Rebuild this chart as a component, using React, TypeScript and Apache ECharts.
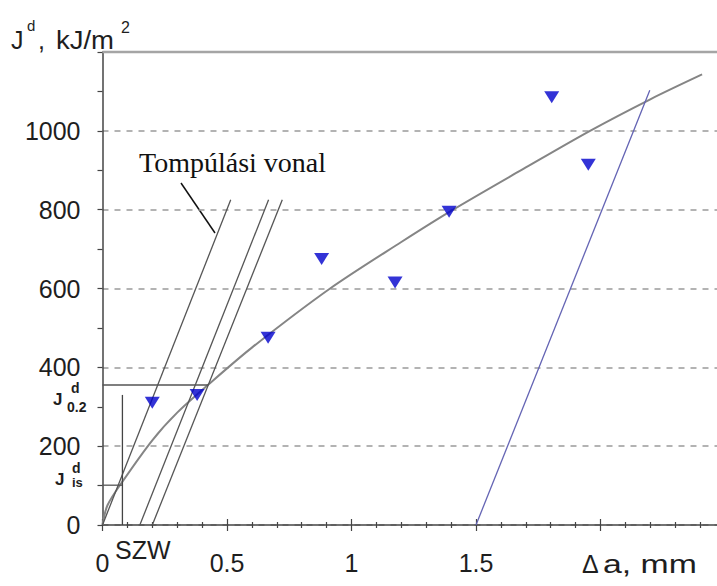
import { useEffect, useRef } from "react";
import * as echarts from "echarts";

// ---- data ----
const xTickLabels = ["0", "0.5", "1", "1.5"];
const yTickLabels = ["0", "200", "400", "600", "800", "1000"];

// measured J-R points (Δa mm, J kJ/m2)
const measuredDa = [0.2, 0.38, 0.665, 0.88, 1.175, 1.392, 1.804, 1.951];
const measuredJ = [310, 330, 475, 675, 615, 795, 1085, 914];

// fitted J-R curve
const fitDa = [0, 0.02, 0.08, 0.2, 0.3, 0.423, 0.6, 0.914, 1.2, 1.4, 1.7, 1.958, 2.2, 2.408];
const fitJ = [0, 50, 110, 215, 285, 355, 450, 600, 718, 797, 907, 1000, 1080, 1143];

// blunting line and its offsets (start Δa at J=0, end point)
const bluntStartDa = [0, 0.15, 0.2, 1.5];
const bluntEndDa = [0.515, 0.667, 0.722, 2.198];
const bluntEndJ = [825, 825, 825, 1103];

// characteristic values
const szwDa = 0.08;
const szwTopJ = 330;
const jIs = 101;
const j02 = 355;
const j02Da = 0.424;
const yMax = 1200;
const xMax = 2.5;

export default function App() {
  const ref = useRef<HTMLDivElement>(null);
  useEffect(() => {
    const chart = echarts.init(ref.current!, null, { renderer: "svg" });
    const sans = "'Liberation Sans', Arial, sans-serif";
    const serif = "'Liberation Serif', 'Times New Roman', serif";
    const axisColor = "#444";

    const line = (data: number[][], color: string, width: number, extra: any = {}) => ({
      type: "line",
      data,
      symbol: "none",
      showSymbol: false,
      silent: true,
      lineStyle: { color, width },
      z: 3,
      ...extra,
    });

    const series: any[] = [];
    series.push(line(fitDa.map((x, i) => [x, fitJ[i]]), "#858585", 2, { smooth: 0.3 }));
    bluntStartDa.forEach((s, i) => {
      series.push(
        line(
          [
            [s, 0],
            [bluntEndDa[i], bluntEndJ[i]],
          ],
          i === 3 ? "#6464b4" : "#555",
          1.3
        )
      );
    });
    series.push(line([[0, j02], [j02Da, j02]], "#555", 1.5));
    series.push(line([[0, jIs], [szwDa, jIs]], "#555", 1.3));
    series.push(line([[szwDa, 0], [szwDa, szwTopJ]], "#444", 1.3));
    series.push(line([[0, yMax], [xMax, yMax]], "#a5a5a5", 2.5, { clip: false }));
    series.push({
      type: "scatter",
      data: measuredDa.map((x, i) => [x, measuredJ[i]]),
      symbol: "triangle",
      symbolRotate: 180,
      symbolSize: [15, 12],
      itemStyle: { color: "#0000cc" },
      silent: true,
      z: 5,
    });

    const tickCommon = { lineStyle: { color: axisColor, width: 1.2 } };

    const txt = (text: string, x: number, y: number, size: number, extra: any = {}) => ({
      type: "text",
      x,
      y,
      silent: true,
      style: {
        text,
        fontSize: size,
        fontFamily: sans,
        fill: "#1e1e1e",
        align: "left",
        verticalAlign: "middle",
        ...extra,
      },
    });

    chart.setOption({
      animation: false,
      grid: {
        left: 102.5,
        width: 622.5,
        top: 52,
        height: 473,
        containLabel: false,
        outerBoundsMode: "none",
      },
      xAxis: [
        {
          type: "value",
          min: 0,
          max: xMax,
          interval: 0.5,
          axisLine: { show: true, onZero: false, lineStyle: { color: axisColor, width: 1.5 } },
          axisTick: { show: true, length: 6, ...tickCommon },
          minorTick: { show: true, splitNumber: 5, length: 3, ...tickCommon },
          axisLabel: {
            margin: 25,
            fontSize: 25,
            fontFamily: sans,
            color: "#1e1e1e",
            formatter: (v: number) => {
              const s = String(Math.round(v * 10) / 10);
              return xTickLabels.includes(s) ? s : "";
            },
          },
          splitLine: { show: false },
        },
        {
          type: "value",
          min: 0,
          max: xMax,
          interval: 0.5,
          position: "bottom",
          axisLine: { show: false, onZero: false },
          axisTick: { show: true, inside: true, length: 6, ...tickCommon },
          minorTick: { show: true, splitNumber: 5, length: 3, ...tickCommon },
          axisLabel: { show: false },
          splitLine: { show: false },
        },
      ],
      yAxis: {
        type: "value",
        min: 0,
        max: yMax,
        interval: 200,
        axisLine: { show: true, lineStyle: { color: axisColor, width: 1.5 } },
        axisTick: { show: true, length: 5, ...tickCommon },
        minorTick: { show: true, splitNumber: 2, length: 5, ...tickCommon },
        axisLabel: {
          margin: 22,
          fontSize: 25,
          fontFamily: sans,
          color: "#1e1e1e",
          formatter: (v: number) => (yTickLabels.includes(String(v)) ? String(v) : ""),
        },
        splitLine: { show: true, lineStyle: { color: "#9a9a9a", type: [6, 6], width: 1.5 } },
      },
      series,
      graphic: [
        // y axis title  J^d, kJ/m^2
        txt("J", 11, 40, 25),
        txt("d", 27, 25, 15),
        txt(",", 38, 40, 25),
        { ...txt("kJ/m", 56, 40, 25), scaleX: 1.1 },
        txt("2", 121, 27, 16),
        // J^d_0.2
        txt("J", 53, 399, 17, { fontWeight: "bold" }),
        txt("d", 71, 388, 14, { fontWeight: "bold" }),
        txt("0.2", 67, 407, 14, { fontWeight: "bold" }),
        // J^d_is
        txt("J", 55, 479, 17, { fontWeight: "bold" }),
        txt("d", 72, 467.5, 14, { fontWeight: "bold" }),
        txt("is", 72, 482.5, 13, { fontWeight: "bold" }),
        // SZW
        txt("SZW", 115, 550, 25),
        // x axis title
        txt("\u0394", 582, 564, 25),
        { ...txt("a, mm", 603, 564, 26), scaleX: 1.3 },
        // annotation
        txt("Tomp\u00falási vonal", 139, 162, 28, { fontFamily: serif, fill: "#111" }),
        {
          type: "line",
          silent: true,
          shape: { x1: 181, y1: 183, x2: 215, y2: 233 },
          style: { stroke: "#111", lineWidth: 1.5 },
        },
      ],
    });
    return () => chart.dispose();
  }, []);
  return (
    <div
      ref={ref}
      style={{ position: "fixed", left: 0, top: 0, width: 717, height: 586, background: "#fff" }}
    />
  );
}
